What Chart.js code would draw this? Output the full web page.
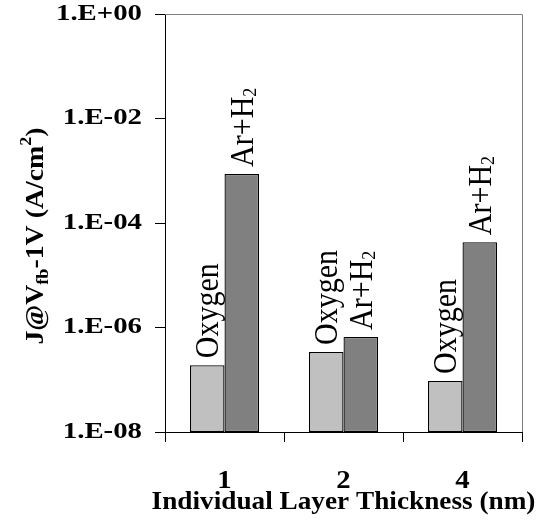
<!DOCTYPE html>
<html>
<head>
<meta charset="utf-8">
<script src="https://cdn.jsdelivr.net/npm/chart.js@4.4.1/dist/chart.umd.min.js"></script>
<style>
  html, body { margin: 0; padding: 0; background: #fff; }
  #wrap { width: 540px; height: 529px; }
</style>
</head>
<body>
<div id="wrap"><canvas id="c" width="540" height="529"></canvas></div>
<script>
// Leakage current density at Vfb-1V for each individual layer thickness
const categories = ['1', '2', '4'];
const seriesNames = ['Oxygen', 'Ar+H2'];
const oxygenJ = [1.9e-7, 3.4e-7, 9.5e-8];
const arH2J = [8.7e-4, 6.6e-7, 4.3e-5];
const yTickValues = [1e-8, 1e-6, 1e-4, 1e-2, 1];
const yTickLabels = ['1.E-08', '1.E-06', '1.E-04', '1.E-02', '1.E+00'];
const xTitle = 'Individual Layer Thickness (nm)';
const seriesColors = ['#c0c0c0', '#808080'];

const SERIF = "'Liberation Serif', 'Times New Roman', serif";

function fontOf(p) {
  return (p.bold ? 'bold ' : '') + p.size + 'px ' + SERIF;
}

// Draws a run of text pieces (with sub/superscripts) in a rotated, stretched frame.
function drawRich(ctx, parts, x, y, opts) {
  const angle = opts.angle || 0;
  const sx = opts.sx || 1;
  const sy = opts.sy || 1;
  ctx.save();
  ctx.translate(x, y);
  ctx.rotate(angle);
  ctx.scale(sx, sy);
  ctx.fillStyle = '#000';
  ctx.textAlign = 'left';
  ctx.textBaseline = 'alphabetic';
  let total = 0;
  for (const p of parts) {
    ctx.font = fontOf(p);
    p.w = ctx.measureText(p.t).width;
    total += p.w;
  }
  let cx = opts.align === 'center' ? -total / 2 : opts.align === 'right' ? -total : 0;
  for (const p of parts) {
    ctx.font = fontOf(p);
    ctx.fillText(p.t, cx, p.dy || 0);
    cx += p.w;
  }
  ctx.restore();
}

// Splits chemical formulas so that digits become subscripts (e.g. H2).
function formulaParts(name, size, subSize) {
  const parts = [];
  const re = /(\d+)|([^\d]+)/g;
  let m;
  while ((m = re.exec(name)) !== null) {
    if (m[1]) parts.push({ t: m[1], size: subSize, dy: 3 });
    else parts.push({ t: m[2], size: size });
  }
  return parts;
}

const yTitleParts = [
  { t: 'J@V', size: 26, bold: true },
  { t: 'fb', size: 17, bold: true, dy: 5 },
  { t: '-1V (A/cm', size: 26, bold: true },
  { t: '2', size: 17, bold: true, dy: -12 },
  { t: ')', size: 26, bold: true }
];

const textLayer = {
  id: 'textLayer',
  afterDraw(chart) {
    const ctx = chart.ctx;
    const area = chart.chartArea;
    const xs = chart.scales.x;
    const ys = chart.scales.y;

    // light frame on the top and right of the plot area
    ctx.save();
    ctx.strokeStyle = '#808080';
    ctx.lineWidth = 1;
    const t = Math.round(area.top) + 0.5;
    const r = Math.round(area.right) + 0.5;
    ctx.beginPath();
    ctx.moveTo(area.left, t);
    ctx.lineTo(r, t);
    ctx.lineTo(r, area.bottom);
    ctx.stroke();
    ctx.restore();

    // y tick labels
    yTickValues.forEach((v, i) => {
      const py = ys.getPixelForValue(v);
      drawRich(ctx, [{ t: yTickLabels[i], size: 24, bold: true }], area.left - 23, py + 5.5,
        { align: 'right', sx: 1.2 });
    });

    // x tick labels
    categories.forEach((c, i) => {
      const px = xs.getPixelForValue(i);
      drawRich(ctx, [{ t: c, size: 25, bold: true }], px, 488, { align: 'center', sx: 1.15 });
    });

    // x axis title
    drawRich(ctx, [{ t: xTitle, size: 25, bold: true }], (area.left + area.right) / 2, 509,
      { align: 'center', sx: 1.09 });

    // y axis title
    drawRich(ctx, yTitleParts, 43, (area.top + area.bottom) / 2 + 13,
      { align: 'center', angle: -Math.PI / 2, sx: 1.07 });

    // series names written above each bar
    chart.data.datasets.forEach((ds, di) => {
      const meta = chart.getDatasetMeta(di);
      meta.data.forEach((bar) => {
        const parts = formulaParts(ds.label, 30, 18);
        drawRich(ctx, parts, bar.x + 11, bar.y - 7, { align: 'left', angle: -Math.PI / 2, sy: 1.1 });
      });
    });
  }
};

new Chart(document.getElementById('c'), {
  type: 'bar',
  data: {
    labels: categories,
    datasets: [
      { label: seriesNames[0], data: oxygenJ, backgroundColor: seriesColors[0],
        borderColor: '#000', borderWidth: 1.3, borderSkipped: false },
      { label: seriesNames[1], data: arH2J, backgroundColor: seriesColors[1],
        borderColor: '#000', borderWidth: 1.3, borderSkipped: false }
    ]
  },
  options: {
    responsive: false,
    devicePixelRatio: 1,
    animation: false,
    layout: { padding: { left: 0, right: 18, top: 14, bottom: 0 } },
    datasets: { bar: { categoryPercentage: 0.58, barPercentage: 1 } },
    plugins: { legend: { display: false }, tooltip: { enabled: false } },
    scales: {
      x: {
        type: 'category',
        ticks: { display: false },
        grid: { offset: true, drawOnChartArea: false, drawTicks: true, tickLength: 10, color: '#000', lineWidth: 1 },
        border: { color: '#000', width: 1 },
        afterFit(s) { s.height = 97; }
      },
      y: {
        type: 'logarithmic',
        min: 1e-8,
        max: 1,
        ticks: { display: false },
        afterBuildTicks(s) { s.ticks = yTickValues.map(v => ({ value: v })); },
        grid: { drawOnChartArea: false, drawTicks: true, tickLength: 10, color: '#000', lineWidth: 1 },
        border: { color: '#000', width: 1 },
        afterFit(s) { s.width = 165; }
      }
    }
  },
  plugins: [textLayer]
});
</script>
</body>
</html>
